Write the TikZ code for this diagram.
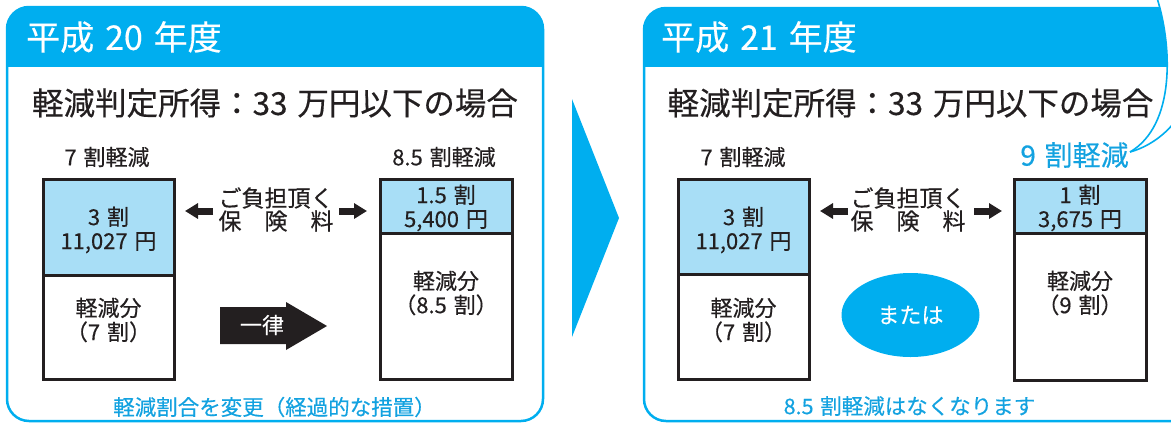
\documentclass[tikz,border=0pt]{standalone}
\usepackage{fontspec}
\setmainfont{Noto Sans CJK JP}[WordSpace=1.4, FakeBold=0.35]
\usetikzlibrary{arrows.meta,shapes.geometric}
\definecolor{cy}{HTML}{00AEEF}
\definecolor{lb}{HTML}{A8DEF6}
\definecolor{dk}{HTML}{231F20}
\definecolor{bt}{HTML}{13A2E0}
\newcommand{\tsp}{\hspace{0.32em}}
\begin{document}
\begin{tikzpicture}[x=1pt,y=-1pt,
  panel/.style={draw=cy, line width=2.5pt, rounded corners=22pt},
  bx/.style={draw=dk, line width=3pt, inner sep=0pt, outer sep=0pt, anchor=north west},
  ttl/.style={text=white, inner sep=0pt, anchor=west, font=\fontsize{34}{40}\selectfont},
  sub/.style={text=dk, inner sep=0pt, font=\fontsize{31.5}{38}\selectfont},
  lbl/.style={text=dk, inner sep=0pt, align=center, font=\fontsize{22}{24}\selectfont},
  pay/.style={text=dk, inner sep=0pt, align=center, font=\fontsize{23}{23}\selectfont},
  blu/.style={text=bt, inner sep=0pt, align=center, font=\fontsize{21.5}{24}\selectfont},
  blk/.style={draw=dk, line width=7pt, -{Triangle[length=13pt,width=15pt]}, shorten >=0pt},
  tail/.style={draw=cy, line width=1.6pt}
]
\useasboundingbox (0,0) rectangle (1171,424);

% ---------- left panel ----------
\begin{scope}
  \clip[rounded corners=22pt] (7,7) rectangle (543,421);
  \fill[cy] (7,7) rectangle (543,67);
\end{scope}
\draw[panel] (7,7) rectangle (543,421);

% ---------- right panel ----------
\begin{scope}
  \clip[rounded corners=22pt] (644,8) rectangle (1230,421);
  \fill[cy] (644,8) rectangle (1230,67);
\end{scope}
\draw[panel] (644,8) rectangle (1230,421);

% ---------- middle triangle ----------
\fill[cy] (572,99) -- (619,218) -- (572,337) -- cycle;

% ---------- left panel content ----------
\node[ttl] (t20) at (26,37) {平成\tsp{}20\tsp{}年度};
\node[sub] (s20) at (275,103) {軽減判定所得：33 万円以下の場合};
\node[lbl] (h7a) at (107,157) {7 割軽減};
\node[lbl] (h85) at (444,157) {8.5 割軽減};

\node[bx, fill=lb, minimum width=131pt, minimum height=96pt] (a1) at (43,179) {};
\node[bx, fill=white, minimum width=131pt, minimum height=104pt] (a2) at (a1.south west) {};
\node[bx, fill=lb, minimum width=132pt, minimum height=54pt] (b1) at (380,179) {};
\node[bx, fill=white, minimum width=132pt, minimum height=146pt] (b2) at (b1.south west) {};

\node[lbl] (a1t) at (108.5,230) {3 割\\11,027 円};
\node[lbl] (a2t) at (108.5,320) {軽減分\\（7 割）};
\node[lbl] (b1t) at (446,208) {1.5 割\\5,400 円};
\node[lbl] (b2t) at (446,293) {軽減分\\（8.5 割）};

\node[pay] (pay1) at (276,209.5) {ご負担頂く\\保　険　料};
\coordinate (pl1) at (213,211);
\coordinate (pl2) at (185,211);
\coordinate (pr1) at (339,211);
\coordinate (pr2) at (367,211);
\draw[blk] (pl1) -- (pl2);
\draw[blk] (pr1) -- (pr2);

\fill[dk] (220,307) -- (286,307) -- (286,302) -- (327,326) -- (286,350) -- (286,344) -- (220,344) -- cycle;
\node[lbl, text=white] (ichi) at (262,325) {一律};

\node[blu] (note20) at (274.5,407) {軽減割合を変更（経過的な措置）};

% ---------- right panel content ----------
\node[ttl] (t21) at (661,37) {平成\tsp{}21\tsp{}年度};
\node[sub] (s21) at (910.5,103) {軽減判定所得：33 万円以下の場合};
\node[lbl] (h7b) at (743,157) {7 割軽減};
\node[blu, font=\fontsize{28}{30}\selectfont] (h9) at (1074.5,155) {9 割軽減};

\node[bx, fill=lb, minimum width=131pt, minimum height=95pt] (c1) at (678,179) {};
\node[bx, fill=white, minimum width=131pt, minimum height=105pt] (c2) at (c1.south west) {};
\node[bx, fill=lb, minimum width=132pt, minimum height=54pt] (d1) at (1014,179) {};
\node[bx, fill=white, minimum width=132pt, minimum height=147pt] (d2) at (d1.south west) {};

\node[lbl] (c1t) at (743.5,230) {3 割\\11,027 円};
\node[lbl] (c2t) at (743.5,320) {軽減分\\（7 割）};
\node[lbl] (d1t) at (1080,208) {1 割\\3,675 円};
\node[lbl] (d2t) at (1080,293) {軽減分\\（9 割）};

\node[pay] (pay2) at (908,209.5) {ご負担頂く\\保　険　料};
\coordinate (ql1) at (848,211);
\coordinate (ql2) at (820,211);
\coordinate (qr1) at (974,211);
\coordinate (qr2) at (1002,211);
\draw[blk] (ql1) -- (ql2);
\draw[blk] (qr1) -- (qr2);

\node[ellipse, fill=cy, minimum width=138pt, minimum height=84pt, inner sep=0pt, text=white,
      font=\fontsize{22}{26}\selectfont] (mataha) at (910.5,315) {または};

\node[blu] (note21) at (909.5,406) {8.5 割軽減はなくなります};

% ---------- callout tail ----------
\coordinate (tip) at (1130,152);
\coordinate (ctop) at (1157,-2);
\coordinate (cside) at (1173,124);
\fill[white] (ctop) .. controls (1172,45) and (1176,125) .. (tip)
   .. controls (1148,147) and (1163,136) .. (cside) -- (1175,-2) -- cycle;
\draw[tail] (ctop) .. controls (1172,45) and (1176,125) .. (tip);
\draw[tail] (tip) .. controls (1148,147) and (1163,136) .. (cside);
\end{tikzpicture}
\end{document}
